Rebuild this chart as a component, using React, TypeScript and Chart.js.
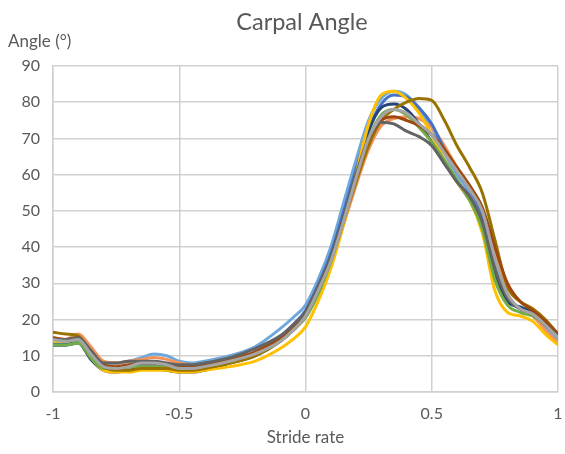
import React, { useEffect, useRef } from "react";
import { Chart, registerables } from "chart.js";

Chart.register(...registerables);

const TITLE = "Carpal Angle";
const Y_LABEL = "Angle (°)";
const X_LABEL = "Stride rate";

const strideRate = [-1, -0.95, -0.9, -0.85, -0.8, -0.75, -0.7, -0.65, -0.6, -0.55, -0.5, -0.45, -0.4, -0.3, -0.2, -0.1, -0.05, 0, 0.05, 0.1, 0.15, 0.2, 0.25, 0.3, 0.35, 0.4, 0.45, 0.5, 0.55, 0.6, 0.65, 0.7, 0.75, 0.8, 0.85, 0.9, 0.95, 1];

const gray = [14.5, 14, 14.5, 10.5, 7, 6.5, 7, 8, 8, 7.5, 6.5, 6.5, 7, 8.5, 10.5, 14, 17, 21, 28, 36, 47, 59, 70, 76, 78, 77, 74, 71, 66, 61, 56, 50, 37, 27, 23, 21.5, 18.5, 15];
const darkGray = [14.5, 14.5, 15, 11.5, 8, 8, 8.5, 8.5, 8.5, 8, 7.5, 7.5, 8, 9.5, 12, 15.5, 18.5, 22, 29, 37, 48, 60, 70, 74.5, 74, 72, 70.5, 68, 63, 58, 54, 47, 34, 26, 23, 21.5, 18.5, 15.5];
const brown = [15, 14.5, 15, 11, 7.5, 7, 7.5, 8, 8, 7.5, 7, 7, 7.5, 9, 11, 15, 18, 22, 29, 37, 48, 59.5, 69.5, 75, 76, 75, 73.5, 71, 67, 62, 57, 51, 40, 30, 25, 22.5, 19.5, 16];
const olive = [16.5, 16, 15.5, 11, 7, 6, 6, 6.5, 6.5, 6.5, 6, 6, 6.5, 8, 10, 14, 17, 21, 28, 36, 47, 58, 68, 75, 78, 80, 81, 80.5, 75, 68, 62, 55, 42, 29, 25, 23, 20, 16];
const green = [13, 13, 13.5, 9.5, 6.5, 6.5, 7, 7, 7, 7, 6.5, 6.5, 7, 8, 10, 14, 17, 20.5, 27, 36, 47, 59, 70, 76.5, 78, 76.5, 73, 69, 64, 58.5, 53, 45, 31, 24, 22, 21, 18.5, 15];
const yellow = [14, 14, 14.5, 9.5, 6, 5.5, 5.5, 6, 6, 6, 5.5, 5.5, 6, 7, 8.5, 12, 14.5, 18, 25, 34, 46, 60, 74, 82, 83, 81, 77, 71, 64, 58, 53, 44, 28, 22, 21, 19.5, 16, 13];
const darkBlue = [13, 13, 13.5, 9, 6, 5.5, 6, 6.5, 6.5, 6, 5.5, 5.5, 6, 8, 10, 14, 17, 21, 28, 37, 48, 60, 72, 78.5, 79.5, 78, 74, 69, 63.5, 58, 53, 47, 33, 25, 23.5, 22, 19, 16];
const blue = [13, 13, 14.5, 10, 6.5, 6.5, 7, 7.5, 7.5, 7, 6.5, 6.5, 7, 8.5, 11, 15, 18.5, 22.5, 29.5, 38, 49.5, 61.5, 72.5, 79.5, 82, 81.5, 78.5, 74, 67, 61, 56, 49, 35, 26, 23, 22, 19, 15.5];
const orange = [15, 14.5, 16, 12.5, 8.5, 8, 8.5, 9, 9.5, 9, 8, 7.5, 7.5, 9, 11, 15, 18, 21.5, 28, 35.5, 46, 57, 67, 73.5, 75.5, 76, 75.5, 73, 68, 62, 57, 50, 38, 27, 23, 21, 17, 13.5];
const lightBlue = [13.5, 13.5, 14, 11, 8, 8, 8.5, 9.5, 10.5, 10, 8.5, 8, 8.5, 10, 12.5, 17.5, 20.5, 24, 31, 40, 52, 64, 75, 81, 83, 82, 78, 73, 66, 60, 55, 48, 34, 26, 23, 21, 17.5, 14.5];

const seriesList = [
  { name: "Trial 3", values: gray, color: "#A5A5A5" },
  { name: "Trial 9", values: darkGray, color: "#636363" },
  { name: "Trial 8", values: brown, color: "#9E480E" },
  { name: "Trial 10", values: olive, color: "#997300" },
  { name: "Trial 6", values: green, color: "#70AD47" },
  { name: "Trial 4", values: yellow, color: "#FFC000" },
  { name: "Trial 7", values: darkBlue, color: "#264478" },
  { name: "Trial 1", values: blue, color: "#4472C4" },
  { name: "Trial 2", values: orange, color: "#F4945A" },
  { name: "Trial 5", values: lightBlue, color: "#6FA8DC" },
];

const FONT = "Lato, 'Liberation Sans', sans-serif";
const TEXT = "#595959";
const GRID = "#d0d0d0";

const labelsPlugin = {
  id: "labels",
  afterDraw(chart: any) {
    const ctx = chart.ctx;
    const area = chart.chartArea;
    ctx.save();
    ctx.fillStyle = TEXT;
    ctx.textBaseline = "middle";
    ctx.textAlign = "center";
    ctx.font = `23.5px ${FONT}`;
    ctx.fillText(TITLE, 302, 22);
    ctx.textAlign = "left";
    ctx.font = `17px ${FONT}`;
    ctx.fillText(Y_LABEL, 8, area.top - 24);
    ctx.restore();
  },
};

export default function App() {
  const ref = useRef<HTMLCanvasElement | null>(null);
  useEffect(() => {
    document.body.style.margin = "0";
    const canvas = ref.current!;
    const chart = new Chart(canvas, {
      type: "line",
      data: {
        datasets: seriesList.map((s) => ({
          label: s.name,
          data: strideRate.map((x, i) => ({ x, y: s.values[i] })),
          borderColor: s.color,
          backgroundColor: s.color,
          borderWidth: 3,
          pointRadius: 0,
          cubicInterpolationMode: "monotone" as const,
          fill: false,
        })),
      },
      options: {
        animation: false,
        responsive: false,
        maintainAspectRatio: false,
        layout: { padding: { top: 66, right: 7, left: 0, bottom: 6 } },
        plugins: {
          legend: { display: false },
          title: { display: false },
          tooltip: { enabled: false },
        },
        scales: {
          x: {
            type: "linear",
            min: -1,
            max: 1,
            ticks: {
              stepSize: 0.5,
              color: TEXT,
              font: { family: FONT, size: 16 },
              padding: 12,
              maxRotation: 0,
              callback: (v: any) => String(Number(v)),
            },
            grid: { color: GRID, lineWidth: 1.5, drawTicks: false },
            border: { color: GRID, width: 1.5 },
            title: {
              display: true,
              text: X_LABEL,
              color: TEXT,
              font: { family: FONT, size: 17 },
              padding: { top: 2, bottom: 0 },
            },
            afterFit(scale: any) {
              scale.height = 56;
              scale.paddingLeft = 0;
              scale.paddingRight = 0;
            },
          },
          y: {
            min: 0,
            max: 90,
            ticks: {
              stepSize: 10,
              color: TEXT,
              font: { family: FONT, size: 16 },
              padding: 13,
            },
            grid: { color: GRID, lineWidth: 1.5, drawTicks: false },
            border: { color: GRID, width: 1.5 },
            afterFit(scale: any) {
              scale.width = 53;
              scale.paddingTop = 0;
              scale.paddingBottom = 0;
            },
          },
        },
      },
      plugins: [labelsPlugin],
    });
    return () => chart.destroy();
  }, []);
  return (
    <div style={{ width: 565, height: 454, background: "#fff" }}>
      <canvas ref={ref} width={565} height={454} style={{ display: "block" }} />
    </div>
  );
}
